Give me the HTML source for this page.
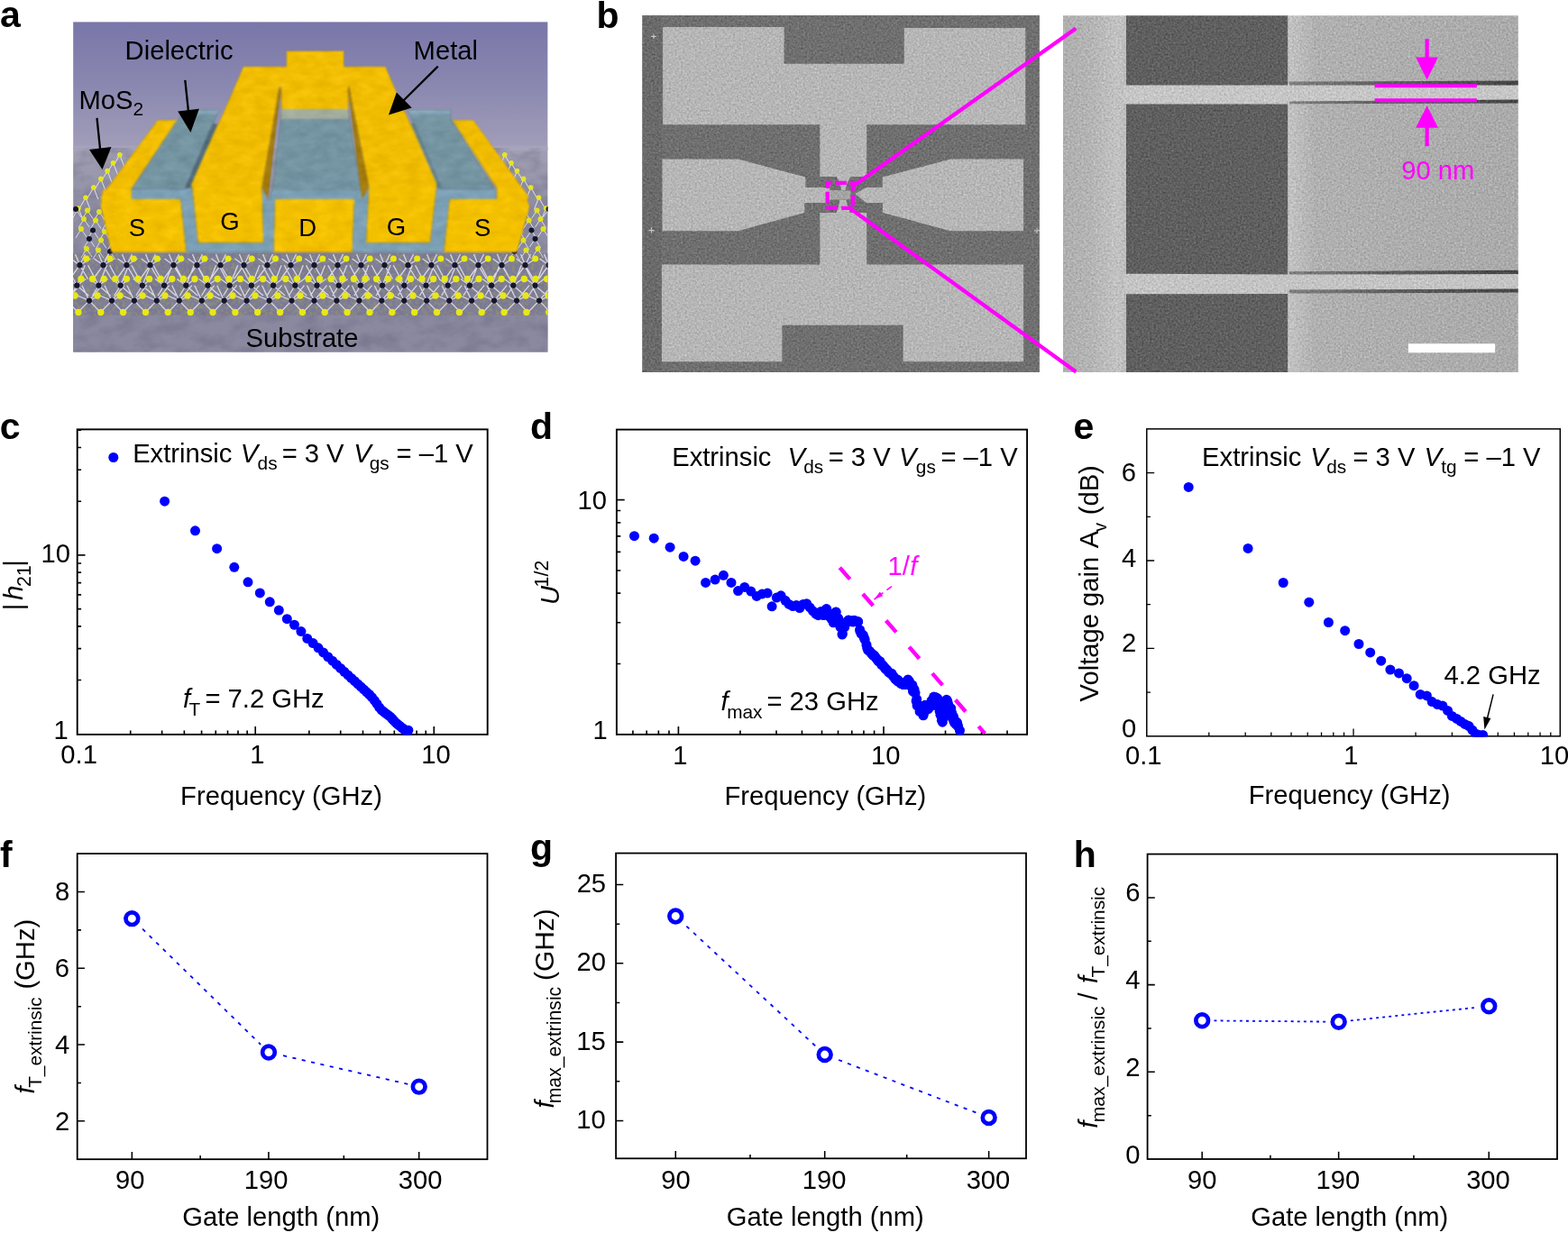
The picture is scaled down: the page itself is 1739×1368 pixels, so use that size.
<!DOCTYPE html>
<html lang="en"><head><meta charset="utf-8"><title>Figure</title>
<style>
html,body{margin:0;padding:0;background:#fff;}
body{width:1739px;height:1368px;overflow:hidden;font-family:"Liberation Sans",Arial,Helvetica,sans-serif;}
svg{display:block;}
svg text{font-family:"Liberation Sans",Arial,Helvetica,sans-serif;}
</style></head><body>
<svg width="1739" height="1368" viewBox="0 0 1739 1368">
<rect width="1739" height="1368" fill="#fff"/>
<defs><linearGradient id="sky" x1="0" x2="0" y1="0" y2="1"><stop offset="0" stop-color="#7976a9"/><stop offset="0.5" stop-color="#8a88b0"/><stop offset="1" stop-color="#a29eb9"/></linearGradient><linearGradient id="gnd" x1="0" x2="0" y1="0" y2="1"><stop offset="0" stop-color="#a2a0b4"/><stop offset="0.25" stop-color="#9190a4"/><stop offset="1" stop-color="#85849a"/></linearGradient><clipPath id="ca"><rect x="81.1" y="24.2" width="526.5" height="366.3"/></clipPath><filter id="abl"><feGaussianBlur stdDeviation="0.8"/></filter><filter id="abl2"><feGaussianBlur stdDeviation="0.5"/></filter><filter id="mot" x="0" y="0" width="100%" height="100%" color-interpolation-filters="sRGB"><feTurbulence type="fractalNoise" baseFrequency="0.045 0.07" numOctaves="3" seed="4" result="n"/><feColorMatrix in="n" type="matrix" values="0 0 0 0 0.42  0 0 0 0 0.41  0 0 0 0 0.52  2.0 0 0 0 -0.8" result="g"/><feComposite in="g" in2="SourceGraphic" operator="in"/></filter><filter id="lat" x="0" y="0" width="100%" height="100%" color-interpolation-filters="sRGB"><feTurbulence type="fractalNoise" baseFrequency="0.28" numOctaves="2" seed="12" result="n"/><feColorMatrix in="n" type="matrix" values="0 0 0 0 0.62  0 0 0 0 0.62  0 0 0 0 0.3  0 2.6 0 0 -1.05" result="g"/><feComposite in="g" in2="SourceGraphic" operator="in"/></filter><filter id="tex" filterUnits="userSpaceOnUse" x="80" y="20" width="530" height="372" color-interpolation-filters="sRGB"><feGaussianBlur in="SourceGraphic" stdDeviation="0.8" result="b"/><feTurbulence type="fractalNoise" baseFrequency="0.06 0.11" numOctaves="3" seed="9" result="n"/><feColorMatrix in="n" type="matrix" values="1 0 0 0 0  1 0 0 0 0  1 0 0 0 0  0 0 0 0 1" result="g"/><feComposite in="b" in2="g" operator="arithmetic" k1="0" k2="1" k3="0.1" k4="-0.05" result="c"/><feComposite in="c" in2="b" operator="in"/></filter></defs>
<g clip-path="url(#ca)">
<rect x="81.1" y="24.2" width="526.5" height="142" fill="url(#sky)"/>
<rect x="81.1" y="164" width="526.5" height="230" fill="url(#gnd)"/>
<rect x="81.1" y="162" width="526.5" height="5" fill="#aaa8c0" opacity="0.7" filter="url(#abl)"/>
<rect x="81.1" y="281" width="526.5" height="69" fill="#7d7ca0"/>
<rect x="81.1" y="349.7" width="526.5" height="42" fill="#8a899f"/>
<rect x="81.1" y="164" width="526.5" height="228" fill="#fff" filter="url(#mot)" opacity="0.5"/>
<path d="M132.8 171.8l5 13M132.8 171.8l-7 12M125.5 180.7l5 13M125.5 180.7l-7 12M119.1 189.5l5 13M119.1 189.5l-7 12M111.9 198.4l5 13M111.9 198.4l-7 12M103.8 208.0l5 13M103.8 208.0l-7 12M95.0 219.3l5 13M95.0 219.3l-7 12M87.0 231.0l5 13M87.0 231.0l-7 12" stroke="#e4e2f0" stroke-width="1" fill="none"/><circle cx="132.8" cy="171.8" r="2.8" fill="#e6e61e"/><circle cx="125.5" cy="180.7" r="2.8" fill="#e6e61e"/><circle cx="119.1" cy="189.5" r="2.8" fill="#e6e61e"/><circle cx="111.9" cy="198.4" r="2.8" fill="#e6e61e"/><circle cx="103.8" cy="208.0" r="2.8" fill="#e6e61e"/><circle cx="95.0" cy="219.3" r="2.8" fill="#e6e61e"/><circle cx="87.0" cy="231.0" r="2.8" fill="#e6e61e"/><path d="M84.0 232.0l6 9M84.0 232.0l-6 10M97.0 233.5l6 9M97.0 233.5l-6 10M110.0 235.0l6 9M110.0 235.0l-6 10M93.0 243.0l6 9M93.0 243.0l-6 10M106.0 244.5l6 9M106.0 244.5l-6 10M119.0 246.0l6 9M119.0 246.0l-6 10M90.0 254.0l6 9M90.0 254.0l-6 10M103.0 255.5l6 9M103.0 255.5l-6 10M116.0 257.0l6 9M116.0 257.0l-6 10M99.0 265.0l6 9M99.0 265.0l-6 10M112.0 266.5l6 9M112.0 266.5l-6 10M125.0 268.0l6 9M125.0 268.0l-6 10M96.0 276.0l6 9M96.0 276.0l-6 10M109.0 277.5l6 9M109.0 277.5l-6 10M122.0 279.0l6 9M122.0 279.0l-6 10" stroke="#dedcec" stroke-width="1" fill="none"/><circle cx="84.0" cy="232.0" r="3.0" fill="#14142a"/><circle cx="97.0" cy="233.5" r="3.0" fill="#e2e21a"/><circle cx="110.0" cy="235.0" r="3.0" fill="#e2e21a"/><circle cx="93.0" cy="243.0" r="3.0" fill="#e2e21a"/><circle cx="106.0" cy="244.5" r="3.0" fill="#e2e21a"/><circle cx="119.0" cy="246.0" r="3.0" fill="#14142a"/><circle cx="90.0" cy="254.0" r="3.0" fill="#e2e21a"/><circle cx="103.0" cy="255.5" r="3.0" fill="#14142a"/><circle cx="116.0" cy="257.0" r="3.0" fill="#e2e21a"/><circle cx="99.0" cy="265.0" r="3.0" fill="#14142a"/><circle cx="112.0" cy="266.5" r="3.0" fill="#e2e21a"/><circle cx="125.0" cy="268.0" r="3.0" fill="#e2e21a"/><circle cx="96.0" cy="276.0" r="3.0" fill="#e2e21a"/><circle cx="109.0" cy="277.5" r="3.0" fill="#e2e21a"/><circle cx="122.0" cy="279.0" r="3.0" fill="#14142a"/>
<g transform="translate(692.5 0) scale(-1 1)"><path d="M132.8 171.8l5 13M132.8 171.8l-7 12M125.5 180.7l5 13M125.5 180.7l-7 12M119.1 189.5l5 13M119.1 189.5l-7 12M111.9 198.4l5 13M111.9 198.4l-7 12M103.8 208.0l5 13M103.8 208.0l-7 12M95.0 219.3l5 13M95.0 219.3l-7 12M87.0 231.0l5 13M87.0 231.0l-7 12" stroke="#e4e2f0" stroke-width="1" fill="none"/><circle cx="132.8" cy="171.8" r="2.8" fill="#e6e61e"/><circle cx="125.5" cy="180.7" r="2.8" fill="#e6e61e"/><circle cx="119.1" cy="189.5" r="2.8" fill="#e6e61e"/><circle cx="111.9" cy="198.4" r="2.8" fill="#e6e61e"/><circle cx="103.8" cy="208.0" r="2.8" fill="#e6e61e"/><circle cx="95.0" cy="219.3" r="2.8" fill="#e6e61e"/><circle cx="87.0" cy="231.0" r="2.8" fill="#e6e61e"/><path d="M84.0 232.0l6 9M84.0 232.0l-6 10M97.0 233.5l6 9M97.0 233.5l-6 10M110.0 235.0l6 9M110.0 235.0l-6 10M93.0 243.0l6 9M93.0 243.0l-6 10M106.0 244.5l6 9M106.0 244.5l-6 10M119.0 246.0l6 9M119.0 246.0l-6 10M90.0 254.0l6 9M90.0 254.0l-6 10M103.0 255.5l6 9M103.0 255.5l-6 10M116.0 257.0l6 9M116.0 257.0l-6 10M99.0 265.0l6 9M99.0 265.0l-6 10M112.0 266.5l6 9M112.0 266.5l-6 10M125.0 268.0l6 9M125.0 268.0l-6 10M96.0 276.0l6 9M96.0 276.0l-6 10M109.0 277.5l6 9M109.0 277.5l-6 10M122.0 279.0l6 9M122.0 279.0l-6 10" stroke="#dedcec" stroke-width="1" fill="none"/><circle cx="84.0" cy="232.0" r="3.0" fill="#14142a"/><circle cx="97.0" cy="233.5" r="3.0" fill="#e2e21a"/><circle cx="110.0" cy="235.0" r="3.0" fill="#e2e21a"/><circle cx="93.0" cy="243.0" r="3.0" fill="#e2e21a"/><circle cx="106.0" cy="244.5" r="3.0" fill="#e2e21a"/><circle cx="119.0" cy="246.0" r="3.0" fill="#14142a"/><circle cx="90.0" cy="254.0" r="3.0" fill="#e2e21a"/><circle cx="103.0" cy="255.5" r="3.0" fill="#14142a"/><circle cx="116.0" cy="257.0" r="3.0" fill="#e2e21a"/><circle cx="99.0" cy="265.0" r="3.0" fill="#14142a"/><circle cx="112.0" cy="266.5" r="3.0" fill="#e2e21a"/><circle cx="125.0" cy="268.0" r="3.0" fill="#e2e21a"/><circle cx="96.0" cy="276.0" r="3.0" fill="#e2e21a"/><circle cx="109.0" cy="277.5" r="3.0" fill="#e2e21a"/><circle cx="122.0" cy="279.0" r="3.0" fill="#14142a"/></g>
<rect x="81" y="281" width="527" height="69" fill="#fff" filter="url(#lat)" opacity="0.6"/>
<g filter="url(#abl2)"><path d="M61.6 346.5L74.0 333.6L86.5 346.5M61.0 328L74.0 333.6L86.0 328M74.0 333.6L66.0 316.7M74.0 333.6L88.0 316.7M86.6 346.5L99.0 333.6L111.4 346.5M86.0 328L99.0 333.6L111.0 328M99.0 333.6L91.0 316.7M99.0 333.6L113.0 316.7M111.5 346.5L124.0 333.6L136.3 346.5M111.0 328L124.0 333.6L135.9 328M124.0 333.6L116.0 316.7M124.0 333.6L137.9 316.7M136.5 346.5L148.9 333.6L161.3 346.5M135.9 328L148.9 333.6L160.9 328M148.9 333.6L140.9 316.7M148.9 333.6L162.9 316.7M161.4 346.5L173.8 333.6L186.2 346.5M160.8 328L173.8 333.6L185.8 328M173.8 333.6L165.8 316.7M173.8 333.6L187.8 316.7M186.4 346.5L198.8 333.6L211.2 346.5M185.8 328L198.8 333.6L210.8 328M198.8 333.6L190.8 316.7M198.8 333.6L212.8 316.7M211.3 346.5L223.8 333.6L236.2 346.5M210.8 328L223.8 333.6L235.8 328M223.8 333.6L215.8 316.7M223.8 333.6L237.8 316.7M236.3 346.5L248.7 333.6L261.1 346.5M235.7 328L248.7 333.6L260.7 328M248.7 333.6L240.7 316.7M248.7 333.6L262.7 316.7M261.2 346.5L273.6 333.6L286.0 346.5M260.6 328L273.6 333.6L285.6 328M273.6 333.6L265.6 316.7M273.6 333.6L287.6 316.7M286.2 346.5L298.6 333.6L311.0 346.5M285.6 328L298.6 333.6L310.6 328M298.6 333.6L290.6 316.7M298.6 333.6L312.6 316.7M311.1 346.5L323.5 333.6L335.9 346.5M310.5 328L323.5 333.6L335.5 328M323.5 333.6L315.5 316.7M323.5 333.6L337.5 316.7M336.1 346.5L348.5 333.6L360.9 346.5M335.5 328L348.5 333.6L360.5 328M348.5 333.6L340.5 316.7M348.5 333.6L362.5 316.7M361.1 346.5L373.4 333.6L385.8 346.5M360.4 328L373.4 333.6L385.4 328M373.4 333.6L365.4 316.7M373.4 333.6L387.4 316.7M386.0 346.5L398.4 333.6L410.8 346.5M385.4 328L398.4 333.6L410.4 328M398.4 333.6L390.4 316.7M398.4 333.6L412.4 316.7M410.9 346.5L423.3 333.6L435.7 346.5M410.3 328L423.3 333.6L435.3 328M423.3 333.6L415.3 316.7M423.3 333.6L437.3 316.7M435.9 346.5L448.3 333.6L460.7 346.5M435.3 328L448.3 333.6L460.3 328M448.3 333.6L440.3 316.7M448.3 333.6L462.3 316.7M460.9 346.5L473.2 333.6L485.6 346.5M460.2 328L473.2 333.6L485.2 328M473.2 333.6L465.2 316.7M473.2 333.6L487.2 316.7M485.8 346.5L498.2 333.6L510.6 346.5M485.2 328L498.2 333.6L510.2 328M498.2 333.6L490.2 316.7M498.2 333.6L512.2 316.7M510.8 346.5L523.1 333.6L535.5 346.5M510.1 328L523.1 333.6L535.1 328M523.1 333.6L515.1 316.7M523.1 333.6L537.1 316.7M535.7 346.5L548.1 333.6L560.5 346.5M535.1 328L548.1 333.6L560.1 328M548.1 333.6L540.1 316.7M548.1 333.6L562.1 316.7M560.6 346.5L573.0 333.6L585.4 346.5M560.0 328L573.0 333.6L585.0 328M573.0 333.6L565.0 316.7M573.0 333.6L587.0 316.7M585.6 346.5L598.0 333.6L610.4 346.5M585.0 328L598.0 333.6L610.0 328M598.0 333.6L590.0 316.7M598.0 333.6L612.0 316.7M610.5 346.5L622.9 333.6L635.3 346.5M609.9 328L622.9 333.6L634.9 328M622.9 333.6L614.9 316.7M622.9 333.6L636.9 316.7M635.5 346.5L647.9 333.6L660.3 346.5M634.9 328L647.9 333.6L659.9 328M647.9 333.6L639.9 316.7M647.9 333.6L661.9 316.7M51.1 309.5L61.1 316.7L71.1 309.5M54.1 328L61.1 316.7L74.1 328M61.1 316.7L70.1 294.2M61.1 316.7L49.1 294.2M75.3 309.5L85.3 316.7L95.3 309.5M78.3 328L85.3 316.7L98.3 328M85.3 316.7L94.3 294.2M85.3 316.7L73.3 294.2M99.5 309.5L109.5 316.7L119.5 309.5M102.5 328L109.5 316.7L122.5 328M109.5 316.7L118.5 294.2M109.5 316.7L97.5 294.2M123.7 309.5L133.7 316.7L143.7 309.5M126.7 328L133.7 316.7L146.7 328M133.7 316.7L142.7 294.2M133.7 316.7L121.7 294.2M147.9 309.5L157.9 316.7L167.9 309.5M150.9 328L157.9 316.7L170.9 328M157.9 316.7L166.9 294.2M157.9 316.7L145.9 294.2M172.1 309.5L182.1 316.7L192.1 309.5M175.1 328L182.1 316.7L195.1 328M182.1 316.7L191.1 294.2M182.1 316.7L170.1 294.2M196.3 309.5L206.3 316.7L216.3 309.5M199.3 328L206.3 316.7L219.3 328M206.3 316.7L215.3 294.2M206.3 316.7L194.3 294.2M220.5 309.5L230.5 316.7L240.5 309.5M223.5 328L230.5 316.7L243.5 328M230.5 316.7L239.5 294.2M230.5 316.7L218.5 294.2M244.7 309.5L254.7 316.7L264.7 309.5M247.7 328L254.7 316.7L267.7 328M254.7 316.7L263.7 294.2M254.7 316.7L242.7 294.2M268.9 309.5L278.9 316.7L288.9 309.5M271.9 328L278.9 316.7L291.9 328M278.9 316.7L287.9 294.2M278.9 316.7L266.9 294.2M293.1 309.5L303.1 316.7L313.1 309.5M296.1 328L303.1 316.7L316.1 328M303.1 316.7L312.1 294.2M303.1 316.7L291.1 294.2M317.3 309.5L327.3 316.7L337.3 309.5M320.3 328L327.3 316.7L340.3 328M327.3 316.7L336.3 294.2M327.3 316.7L315.3 294.2M341.5 309.5L351.5 316.7L361.5 309.5M344.5 328L351.5 316.7L364.5 328M351.5 316.7L360.5 294.2M351.5 316.7L339.5 294.2M365.7 309.5L375.7 316.7L385.7 309.5M368.7 328L375.7 316.7L388.7 328M375.7 316.7L384.7 294.2M375.7 316.7L363.7 294.2M389.9 309.5L399.9 316.7L409.9 309.5M392.9 328L399.9 316.7L412.9 328M399.9 316.7L408.9 294.2M399.9 316.7L387.9 294.2M414.1 309.5L424.1 316.7L434.1 309.5M417.1 328L424.1 316.7L437.1 328M424.1 316.7L433.1 294.2M424.1 316.7L412.1 294.2M438.3 309.5L448.3 316.7L458.3 309.5M441.3 328L448.3 316.7L461.3 328M448.3 316.7L457.3 294.2M448.3 316.7L436.3 294.2M462.5 309.5L472.5 316.7L482.5 309.5M465.5 328L472.5 316.7L485.5 328M472.5 316.7L481.5 294.2M472.5 316.7L460.5 294.2M486.7 309.5L496.7 316.7L506.7 309.5M489.7 328L496.7 316.7L509.7 328M496.7 316.7L505.7 294.2M496.7 316.7L484.7 294.2M510.9 309.5L520.9 316.7L530.9 309.5M513.9 328L520.9 316.7L533.9 328M520.9 316.7L529.9 294.2M520.9 316.7L508.9 294.2M535.1 309.5L545.1 316.7L555.1 309.5M538.1 328L545.1 316.7L558.1 328M545.1 316.7L554.1 294.2M545.1 316.7L533.1 294.2M559.3 309.5L569.3 316.7L579.3 309.5M562.3 328L569.3 316.7L582.3 328M569.3 316.7L578.3 294.2M569.3 316.7L557.3 294.2M583.5 309.5L593.5 316.7L603.5 309.5M586.5 328L593.5 316.7L606.5 328M593.5 316.7L602.5 294.2M593.5 316.7L581.5 294.2M607.7 309.5L617.7 316.7L627.7 309.5M610.7 328L617.7 316.7L630.7 328M617.7 316.7L626.7 294.2M617.7 316.7L605.7 294.2M52.5 287L62.5 294.2L74.5 287M51.5 309.5L62.5 294.2L71.5 309.5M57.5 282L62.5 294.2L68.5 282M78.5 287L88.5 294.2L100.5 287M77.5 309.5L88.5 294.2L97.5 309.5M83.5 282L88.5 294.2L94.5 282M104.5 287L114.5 294.2L126.5 287M103.5 309.5L114.5 294.2L123.5 309.5M109.5 282L114.5 294.2L120.5 282M130.5 287L140.5 294.2L152.5 287M129.5 309.5L140.5 294.2L149.5 309.5M135.5 282L140.5 294.2L146.5 282M156.5 287L166.5 294.2L178.5 287M155.5 309.5L166.5 294.2L175.5 309.5M161.5 282L166.5 294.2L172.5 282M182.5 287L192.5 294.2L204.5 287M181.5 309.5L192.5 294.2L201.5 309.5M187.5 282L192.5 294.2L198.5 282M208.5 287L218.5 294.2L230.5 287M207.5 309.5L218.5 294.2L227.5 309.5M213.5 282L218.5 294.2L224.5 282M234.5 287L244.5 294.2L256.5 287M233.5 309.5L244.5 294.2L253.5 309.5M239.5 282L244.5 294.2L250.5 282M260.5 287L270.5 294.2L282.5 287M259.5 309.5L270.5 294.2L279.5 309.5M265.5 282L270.5 294.2L276.5 282M286.5 287L296.5 294.2L308.5 287M285.5 309.5L296.5 294.2L305.5 309.5M291.5 282L296.5 294.2L302.5 282M312.5 287L322.5 294.2L334.5 287M311.5 309.5L322.5 294.2L331.5 309.5M317.5 282L322.5 294.2L328.5 282M338.5 287L348.5 294.2L360.5 287M337.5 309.5L348.5 294.2L357.5 309.5M343.5 282L348.5 294.2L354.5 282M364.5 287L374.5 294.2L386.5 287M363.5 309.5L374.5 294.2L383.5 309.5M369.5 282L374.5 294.2L380.5 282M390.5 287L400.5 294.2L412.5 287M389.5 309.5L400.5 294.2L409.5 309.5M395.5 282L400.5 294.2L406.5 282M416.5 287L426.5 294.2L438.5 287M415.5 309.5L426.5 294.2L435.5 309.5M421.5 282L426.5 294.2L432.5 282M442.5 287L452.5 294.2L464.5 287M441.5 309.5L452.5 294.2L461.5 309.5M447.5 282L452.5 294.2L458.5 282M468.5 287L478.5 294.2L490.5 287M467.5 309.5L478.5 294.2L487.5 309.5M473.5 282L478.5 294.2L484.5 282M494.5 287L504.5 294.2L516.5 287M493.5 309.5L504.5 294.2L513.5 309.5M499.5 282L504.5 294.2L510.5 282M520.5 287L530.5 294.2L542.5 287M519.5 309.5L530.5 294.2L539.5 309.5M525.5 282L530.5 294.2L536.5 282M546.5 287L556.5 294.2L568.5 287M545.5 309.5L556.5 294.2L565.5 309.5M551.5 282L556.5 294.2L562.5 282M572.5 287L582.5 294.2L594.5 287M571.5 309.5L582.5 294.2L591.5 309.5M577.5 282L582.5 294.2L588.5 282M598.5 287L608.5 294.2L620.5 287M597.5 309.5L608.5 294.2L617.5 309.5M603.5 282L608.5 294.2L614.5 282M624.5 287L634.5 294.2L646.5 287M623.5 309.5L634.5 294.2L643.5 309.5M629.5 282L634.5 294.2L640.5 282" stroke="#e2e0f0" stroke-width="1.3" fill="none" opacity="0.9"/><circle cx="62.5" cy="294.2" r="3.1" fill="#14142a"/><circle cx="88.5" cy="294.2" r="3.1" fill="#14142a"/><circle cx="114.5" cy="294.2" r="3.1" fill="#14142a"/><circle cx="140.5" cy="294.2" r="3.1" fill="#14142a"/><circle cx="166.5" cy="294.2" r="3.1" fill="#14142a"/><circle cx="192.5" cy="294.2" r="3.1" fill="#14142a"/><circle cx="218.5" cy="294.2" r="3.1" fill="#14142a"/><circle cx="244.5" cy="294.2" r="3.1" fill="#14142a"/><circle cx="270.5" cy="294.2" r="3.1" fill="#14142a"/><circle cx="296.5" cy="294.2" r="3.1" fill="#14142a"/><circle cx="322.5" cy="294.2" r="3.1" fill="#14142a"/><circle cx="348.5" cy="294.2" r="3.1" fill="#14142a"/><circle cx="374.5" cy="294.2" r="3.1" fill="#14142a"/><circle cx="400.5" cy="294.2" r="3.1" fill="#14142a"/><circle cx="426.5" cy="294.2" r="3.1" fill="#14142a"/><circle cx="452.5" cy="294.2" r="3.1" fill="#14142a"/><circle cx="478.5" cy="294.2" r="3.1" fill="#14142a"/><circle cx="504.5" cy="294.2" r="3.1" fill="#14142a"/><circle cx="530.5" cy="294.2" r="3.1" fill="#14142a"/><circle cx="556.5" cy="294.2" r="3.1" fill="#14142a"/><circle cx="582.5" cy="294.2" r="3.1" fill="#14142a"/><circle cx="608.5" cy="294.2" r="3.1" fill="#14142a"/><circle cx="634.5" cy="294.2" r="3.1" fill="#14142a"/><circle cx="61.1" cy="316.7" r="3.1" fill="#14142a"/><circle cx="85.3" cy="316.7" r="3.1" fill="#14142a"/><circle cx="109.5" cy="316.7" r="3.1" fill="#14142a"/><circle cx="133.7" cy="316.7" r="3.1" fill="#14142a"/><circle cx="157.9" cy="316.7" r="3.1" fill="#14142a"/><circle cx="182.1" cy="316.7" r="3.1" fill="#14142a"/><circle cx="206.3" cy="316.7" r="3.1" fill="#14142a"/><circle cx="230.5" cy="316.7" r="3.1" fill="#14142a"/><circle cx="254.7" cy="316.7" r="3.1" fill="#14142a"/><circle cx="278.9" cy="316.7" r="3.1" fill="#14142a"/><circle cx="303.1" cy="316.7" r="3.1" fill="#14142a"/><circle cx="327.3" cy="316.7" r="3.1" fill="#14142a"/><circle cx="351.5" cy="316.7" r="3.1" fill="#14142a"/><circle cx="375.7" cy="316.7" r="3.1" fill="#14142a"/><circle cx="399.9" cy="316.7" r="3.1" fill="#14142a"/><circle cx="424.1" cy="316.7" r="3.1" fill="#14142a"/><circle cx="448.3" cy="316.7" r="3.1" fill="#14142a"/><circle cx="472.5" cy="316.7" r="3.1" fill="#14142a"/><circle cx="496.7" cy="316.7" r="3.1" fill="#14142a"/><circle cx="520.9" cy="316.7" r="3.1" fill="#14142a"/><circle cx="545.1" cy="316.7" r="3.1" fill="#14142a"/><circle cx="569.3" cy="316.7" r="3.1" fill="#14142a"/><circle cx="593.5" cy="316.7" r="3.1" fill="#14142a"/><circle cx="617.7" cy="316.7" r="3.1" fill="#14142a"/><circle cx="74.0" cy="333.6" r="3.1" fill="#14142a"/><circle cx="99.0" cy="333.6" r="3.1" fill="#14142a"/><circle cx="124.0" cy="333.6" r="3.1" fill="#14142a"/><circle cx="148.9" cy="333.6" r="3.1" fill="#14142a"/><circle cx="173.8" cy="333.6" r="3.1" fill="#14142a"/><circle cx="198.8" cy="333.6" r="3.1" fill="#14142a"/><circle cx="223.8" cy="333.6" r="3.1" fill="#14142a"/><circle cx="248.7" cy="333.6" r="3.1" fill="#14142a"/><circle cx="273.6" cy="333.6" r="3.1" fill="#14142a"/><circle cx="298.6" cy="333.6" r="3.1" fill="#14142a"/><circle cx="323.5" cy="333.6" r="3.1" fill="#14142a"/><circle cx="348.5" cy="333.6" r="3.1" fill="#14142a"/><circle cx="373.4" cy="333.6" r="3.1" fill="#14142a"/><circle cx="398.4" cy="333.6" r="3.1" fill="#14142a"/><circle cx="423.3" cy="333.6" r="3.1" fill="#14142a"/><circle cx="448.3" cy="333.6" r="3.1" fill="#14142a"/><circle cx="473.2" cy="333.6" r="3.1" fill="#14142a"/><circle cx="498.2" cy="333.6" r="3.1" fill="#14142a"/><circle cx="523.1" cy="333.6" r="3.1" fill="#14142a"/><circle cx="548.1" cy="333.6" r="3.1" fill="#14142a"/><circle cx="573.0" cy="333.6" r="3.1" fill="#14142a"/><circle cx="598.0" cy="333.6" r="3.1" fill="#14142a"/><circle cx="622.9" cy="333.6" r="3.1" fill="#14142a"/><circle cx="647.9" cy="333.6" r="3.1" fill="#14142a"/><circle cx="69.6" cy="287.0" r="3.5" fill="#e8e814"/><circle cx="95.8" cy="287.0" r="3.5" fill="#e8e814"/><circle cx="122.0" cy="287.0" r="3.5" fill="#e8e814"/><circle cx="148.2" cy="287.0" r="3.5" fill="#e8e814"/><circle cx="174.4" cy="287.0" r="3.5" fill="#e8e814"/><circle cx="200.6" cy="287.0" r="3.5" fill="#e8e814"/><circle cx="226.8" cy="287.0" r="3.5" fill="#e8e814"/><circle cx="253.0" cy="287.0" r="3.5" fill="#e8e814"/><circle cx="279.2" cy="287.0" r="3.5" fill="#e8e814"/><circle cx="305.4" cy="287.0" r="3.5" fill="#e8e814"/><circle cx="331.6" cy="287.0" r="3.5" fill="#e8e814"/><circle cx="357.8" cy="287.0" r="3.5" fill="#e8e814"/><circle cx="384.0" cy="287.0" r="3.5" fill="#e8e814"/><circle cx="410.2" cy="287.0" r="3.5" fill="#e8e814"/><circle cx="436.4" cy="287.0" r="3.5" fill="#e8e814"/><circle cx="462.6" cy="287.0" r="3.5" fill="#e8e814"/><circle cx="488.8" cy="287.0" r="3.5" fill="#e8e814"/><circle cx="515.0" cy="287.0" r="3.5" fill="#e8e814"/><circle cx="541.2" cy="287.0" r="3.5" fill="#e8e814"/><circle cx="567.4" cy="287.0" r="3.5" fill="#e8e814"/><circle cx="593.6" cy="287.0" r="3.5" fill="#e8e814"/><circle cx="619.8" cy="287.0" r="3.5" fill="#e8e814"/><circle cx="646.0" cy="287.0" r="3.5" fill="#e8e814"/><circle cx="77.4" cy="309.5" r="3.7" fill="#e8e814"/><circle cx="90.0" cy="309.5" r="3.7" fill="#e8e814"/><circle cx="102.6" cy="309.5" r="3.7" fill="#e8e814"/><circle cx="115.2" cy="309.5" r="3.7" fill="#e8e814"/><circle cx="127.8" cy="309.5" r="3.7" fill="#e8e814"/><circle cx="140.4" cy="309.5" r="3.7" fill="#e8e814"/><circle cx="153.0" cy="309.5" r="3.7" fill="#e8e814"/><circle cx="165.6" cy="309.5" r="3.7" fill="#e8e814"/><circle cx="178.2" cy="309.5" r="3.7" fill="#e8e814"/><circle cx="190.8" cy="309.5" r="3.7" fill="#e8e814"/><circle cx="203.4" cy="309.5" r="3.7" fill="#e8e814"/><circle cx="216.0" cy="309.5" r="3.7" fill="#e8e814"/><circle cx="228.6" cy="309.5" r="3.7" fill="#e8e814"/><circle cx="241.2" cy="309.5" r="3.7" fill="#e8e814"/><circle cx="253.8" cy="309.5" r="3.7" fill="#e8e814"/><circle cx="266.4" cy="309.5" r="3.7" fill="#e8e814"/><circle cx="279.0" cy="309.5" r="3.7" fill="#e8e814"/><circle cx="291.6" cy="309.5" r="3.7" fill="#e8e814"/><circle cx="304.2" cy="309.5" r="3.7" fill="#e8e814"/><circle cx="316.8" cy="309.5" r="3.7" fill="#e8e814"/><circle cx="329.4" cy="309.5" r="3.7" fill="#e8e814"/><circle cx="342.0" cy="309.5" r="3.7" fill="#e8e814"/><circle cx="354.6" cy="309.5" r="3.7" fill="#e8e814"/><circle cx="367.2" cy="309.5" r="3.7" fill="#e8e814"/><circle cx="379.8" cy="309.5" r="3.7" fill="#e8e814"/><circle cx="392.4" cy="309.5" r="3.7" fill="#e8e814"/><circle cx="405.0" cy="309.5" r="3.7" fill="#e8e814"/><circle cx="417.6" cy="309.5" r="3.7" fill="#e8e814"/><circle cx="430.2" cy="309.5" r="3.7" fill="#e8e814"/><circle cx="442.8" cy="309.5" r="3.7" fill="#e8e814"/><circle cx="455.4" cy="309.5" r="3.7" fill="#e8e814"/><circle cx="468.0" cy="309.5" r="3.7" fill="#e8e814"/><circle cx="480.6" cy="309.5" r="3.7" fill="#e8e814"/><circle cx="493.2" cy="309.5" r="3.7" fill="#e8e814"/><circle cx="505.8" cy="309.5" r="3.7" fill="#e8e814"/><circle cx="518.4" cy="309.5" r="3.7" fill="#e8e814"/><circle cx="531.0" cy="309.5" r="3.7" fill="#e8e814"/><circle cx="543.6" cy="309.5" r="3.7" fill="#e8e814"/><circle cx="556.2" cy="309.5" r="3.7" fill="#e8e814"/><circle cx="568.8" cy="309.5" r="3.7" fill="#e8e814"/><circle cx="581.4" cy="309.5" r="3.7" fill="#e8e814"/><circle cx="594.0" cy="309.5" r="3.7" fill="#e8e814"/><circle cx="606.6" cy="309.5" r="3.7" fill="#e8e814"/><circle cx="619.2" cy="309.5" r="3.7" fill="#e8e814"/><circle cx="631.8" cy="309.5" r="3.7" fill="#e8e814"/><circle cx="58.0" cy="328.0" r="3.7" fill="#e8e814"/><circle cx="83.0" cy="328.0" r="3.7" fill="#e8e814"/><circle cx="108.0" cy="328.0" r="3.7" fill="#e8e814"/><circle cx="133.0" cy="328.0" r="3.7" fill="#e8e814"/><circle cx="158.0" cy="328.0" r="3.7" fill="#e8e814"/><circle cx="183.0" cy="328.0" r="3.7" fill="#e8e814"/><circle cx="208.0" cy="328.0" r="3.7" fill="#e8e814"/><circle cx="233.0" cy="328.0" r="3.7" fill="#e8e814"/><circle cx="258.0" cy="328.0" r="3.7" fill="#e8e814"/><circle cx="283.0" cy="328.0" r="3.7" fill="#e8e814"/><circle cx="308.0" cy="328.0" r="3.7" fill="#e8e814"/><circle cx="333.0" cy="328.0" r="3.7" fill="#e8e814"/><circle cx="358.0" cy="328.0" r="3.7" fill="#e8e814"/><circle cx="383.0" cy="328.0" r="3.7" fill="#e8e814"/><circle cx="408.0" cy="328.0" r="3.7" fill="#e8e814"/><circle cx="433.0" cy="328.0" r="3.7" fill="#e8e814"/><circle cx="458.0" cy="328.0" r="3.7" fill="#e8e814"/><circle cx="483.0" cy="328.0" r="3.7" fill="#e8e814"/><circle cx="508.0" cy="328.0" r="3.7" fill="#e8e814"/><circle cx="533.0" cy="328.0" r="3.7" fill="#e8e814"/><circle cx="558.0" cy="328.0" r="3.7" fill="#e8e814"/><circle cx="583.0" cy="328.0" r="3.7" fill="#e8e814"/><circle cx="608.0" cy="328.0" r="3.7" fill="#e8e814"/><circle cx="633.0" cy="328.0" r="3.7" fill="#e8e814"/><circle cx="62.1" cy="346.5" r="3.7" fill="#e8e814"/><circle cx="86.9" cy="346.5" r="3.7" fill="#e8e814"/><circle cx="111.8" cy="346.5" r="3.7" fill="#e8e814"/><circle cx="136.6" cy="346.5" r="3.7" fill="#e8e814"/><circle cx="161.5" cy="346.5" r="3.7" fill="#e8e814"/><circle cx="186.3" cy="346.5" r="3.7" fill="#e8e814"/><circle cx="211.2" cy="346.5" r="3.7" fill="#e8e814"/><circle cx="236.0" cy="346.5" r="3.7" fill="#e8e814"/><circle cx="260.9" cy="346.5" r="3.7" fill="#e8e814"/><circle cx="285.7" cy="346.5" r="3.7" fill="#e8e814"/><circle cx="310.6" cy="346.5" r="3.7" fill="#e8e814"/><circle cx="335.4" cy="346.5" r="3.7" fill="#e8e814"/><circle cx="360.2" cy="346.5" r="3.7" fill="#e8e814"/><circle cx="385.1" cy="346.5" r="3.7" fill="#e8e814"/><circle cx="410.0" cy="346.5" r="3.7" fill="#e8e814"/><circle cx="434.8" cy="346.5" r="3.7" fill="#e8e814"/><circle cx="459.6" cy="346.5" r="3.7" fill="#e8e814"/><circle cx="484.5" cy="346.5" r="3.7" fill="#e8e814"/><circle cx="509.4" cy="346.5" r="3.7" fill="#e8e814"/><circle cx="534.2" cy="346.5" r="3.7" fill="#e8e814"/><circle cx="559.1" cy="346.5" r="3.7" fill="#e8e814"/><circle cx="583.9" cy="346.5" r="3.7" fill="#e8e814"/><circle cx="608.8" cy="346.5" r="3.7" fill="#e8e814"/><circle cx="633.6" cy="346.5" r="3.7" fill="#e8e814"/></g>
<g filter="url(#tex)">
<polygon points="174.7,132.4 197.2,132.4 145.7,209.7 145.7,221.0 113.5,221.0 110.3,219.3" fill="#f0bd02" />
<polygon points="501.0,132.4 525.2,132.4 588.0,219.3 581.5,221.0 550.9,221.0 550.9,209.7" fill="#f0bd02" />
<polygon points="197.2,132.4 204.0,121.1 243.9,121.1 211.7,208.0 208.5,209.7 145.7,209.7" fill="#7594a2" />
<polygon points="145.7,209.7 208.5,209.7 204.0,221.0 145.7,221.0" fill="#7ba0b6" />
<polygon points="451.1,121.1 500.2,121.1 501.0,132.4 549.3,209.7 487.0,209.7 484.1,203.2" fill="#7594a2" />
<polygon points="487.0,209.7 549.3,209.7 550.9,221.0 492.0,221.0" fill="#7ba0b6" />
<polygon points="204.0,121.1 243.9,121.1 241.6,126.6 200.6,126.6" fill="#86a8ba" />
<polygon points="451.1,121.1 500.2,121.1 500.6,126.6 453.5,126.6" fill="#86a8ba" />
<polygon points="311.5,121.5 386.7,121.5 402.0,221.0 300.0,221.0" fill="#7594a2" />
<polygon points="311.5,121.1 386.7,121.1 387.0,132.0 311.0,132.0" fill="#a3ad9c" />
<polygon points="300.0,212.0 402.0,212.0 403.0,221.0 299.0,221.0" fill="#7ba0b6" />
<polygon points="235.5,137.2 242.5,137.2 212.0,209.7 204.5,209.7" fill="#52697a" />
<polygon points="460.5,137.2 454.5,137.2 485.0,209.7 490.5,209.7" fill="#64808e" />
<polygon points="317.2,56.0 381.9,56.0 381.9,73.6 427.8,73.6 437.0,95.0 386.7,95.3 386.7,121.1 311.5,121.1 311.5,96.9 260.0,96.0 269.7,73.6 317.2,73.6" fill="#f0bd02" />
<polygon points="269.7,73.6 311.5,73.6 309.9,96.9 290.6,208.0 213.3,208.0 211.7,206.0" fill="#f0bd02" />
<polygon points="309.9,96.9 311.8,100.0 297.5,221.0 290.6,208.0" fill="#a57c0c" />
<polygon points="386.7,73.6 427.8,73.6 484.1,203.2 484.1,208.0 409.2,208.0 386.7,95.3" fill="#f0bd02" />
<polygon points="386.7,95.3 409.2,208.0 401.5,221.0 385.5,100.0" fill="#a57c0c" />
<polygon points="113.5,209.7 145.7,209.7 145.7,220.9 200.4,220.9 206.9,280.5 123.1,280.5 111.1,229.0" fill="#f3c000" />
<polygon points="200.4,220.9 204.0,209.7 213.3,208.0 219.7,269.2 292.2,269.2 290.6,208.0 297.5,221.0 305.1,220.9 303.5,280.5 206.9,280.5" fill="#7ba0b6" />
<polygon points="213.3,208.0 290.6,208.0 292.2,269.2 219.7,269.2" fill="#f3c000" />
<polygon points="305.1,220.9 393.1,220.9 390.7,280.5 303.5,280.5" fill="#f3c000" />
<polygon points="393.1,220.9 401.5,221.0 409.2,208.0 406.0,269.2 477.0,269.2 484.1,208.0 494.6,212.0 498.6,220.9 492.2,280.5 390.7,280.5" fill="#7ba0b6" />
<polygon points="409.2,208.0 484.1,208.0 477.0,269.2 406.0,269.2" fill="#f3c000" />
<polygon points="498.6,220.9 550.9,220.9 550.9,209.7 581.5,209.7 588.0,229.0 573.5,280.5 492.2,280.5" fill="#f3c000" />
</g>
</g>
<text x="138.6" y="66.4" font-size="29.2">Dielectric</text>
<text x="458.6" y="66.4" font-size="29.2">Metal</text>
<text x="87.4" y="121.4" font-size="29.2">MoS<tspan font-size="21" dy="7">2</tspan></text>
<text x="335" y="385.2" text-anchor="middle" font-size="29.2">Substrate</text>
<text x="151.8" y="261.9" text-anchor="middle" font-size="27.5">S</text>
<text x="255" y="254.6" text-anchor="middle" font-size="27.5">G</text>
<text x="341.2" y="261.9" text-anchor="middle" font-size="27.5">D</text>
<text x="439.5" y="260.7" text-anchor="middle" font-size="27.5">G</text>
<text x="535.1" y="261.9" text-anchor="middle" font-size="27.5">S</text>
<path d="M205.3 88.9L209.2 126M107.5 130.8L111.2 167M485.7 73.6L446 113" stroke="#000" stroke-width="2.3" fill="none"/>
<polygon points="211.4,146.9 197.2,123.5 220.9,120.8" fill="#000" />
<polygon points="113.5,187.9 99.0,165.9 123.5,163.0" fill="#000" />
<polygon points="431.0,127.5 439.8,102.6 456.7,119.5" fill="#000" />
<text x="0" y="30.2" font-size="41" font-weight="bold">a</text>
<defs><filter id="sem" filterUnits="userSpaceOnUse" x="700" y="5" width="1000" height="420" color-interpolation-filters="sRGB"><feGaussianBlur in="SourceGraphic" stdDeviation="0.75" result="b"/><feTurbulence type="fractalNoise" baseFrequency="0.45" numOctaves="2" seed="7" result="n"/><feColorMatrix in="n" type="matrix" values="0.6 0.4 0 0 0  0.6 0.4 0 0 0  0.6 0.4 0 0 0  0 0 0 0 1" result="g"/><feComposite in="b" in2="g" operator="arithmetic" k1="0" k2="1" k3="0.36" k4="-0.18"/></filter><clipPath id="cb1"><rect x="712.2" y="17.1" width="440.7" height="395.9"/></clipPath><clipPath id="cb2"><rect x="1179" y="17.2" width="504.8" height="395.7"/></clipPath><linearGradient id="lband" x1="0" x2="1" y1="0" y2="0"><stop offset="0" stop-color="#adadad"/><stop offset="0.5" stop-color="#b4b4b4"/><stop offset="0.88" stop-color="#c2c2c2"/><stop offset="1" stop-color="#bcbcbc"/></linearGradient><linearGradient id="rreg" x1="0" x2="1" y1="0" y2="0"><stop offset="0" stop-color="#c4c4c4"/><stop offset="0.12" stop-color="#b0b0b0"/><stop offset="1" stop-color="#aaaaaa"/></linearGradient><linearGradient id="dkl" gradientUnits="userSpaceOnUse" x1="1430" x2="1690" y1="0" y2="0"><stop offset="0" stop-color="#7e7e7e"/><stop offset="0.4" stop-color="#606060"/><stop offset="1" stop-color="#444444"/></linearGradient></defs>
<g clip-path="url(#cb1)"><g filter="url(#sem)">
<rect x="705" y="10" width="455" height="410" fill="#6f6f6f"/>
<rect x="705" y="10" width="29" height="410" fill="#6a6a6a"/>
<polygon points="735.1,30.1 869.6,30.1 869.6,70.8 1002.8,70.8 1002.8,31.0 1137.3,31.0 1137.3,138.2 961.2,138.2 961.2,196.1 943.6,196.1 939.5,203.0 937.5,211.0 933.0,211.0 932.0,203.0 927.5,196.1 909.4,196.1 909.4,138.2 735.1,138.2" fill="#b6b6b6" />
<polygon points="733.9,401.2 867.4,401.2 867.4,360.8 1001.6,360.8 1001.6,401.2 1135.1,401.2 1135.1,293.4 961.2,293.4 961.2,236.0 942.7,236.0 940.5,229.0 938.0,221.5 931.5,221.5 930.0,229.0 927.5,236.0 909.4,236.0 909.4,293.4 733.9,293.4" fill="#b6b6b6" />
<polygon points="734.5,176.4 818.4,176.4 893.3,196.6 893.3,208.0 919.0,208.0 921.0,211.3 933.0,211.3 933.0,221.3 921.0,221.3 919.0,225.1 892.3,225.1 892.3,236.0 818.4,256.2 734.5,256.2" fill="#b6b6b6" />
<polygon points="921.0,211.3 943.5,211.3 943.5,221.3 921.0,221.3" fill="#a4a4a4" />
<polygon points="1135.1,176.4 1054.4,176.4 978.8,196.6 978.8,208.0 960.8,208.0 948.4,215.0 960.8,225.1 978.8,225.1 978.8,236.0 1054.4,256.2 1135.1,256.2" fill="#b6b6b6" />
<path d="M722 40.3h6M725 37.3v6M719.5 255.6h6M722.5 252.6v6M1147 255.8h6M1150 252.8v6" stroke="#c0c0c0" stroke-width="1.2" fill="none"/>
</g></g>
<g clip-path="url(#cb2)"><g filter="url(#sem)">
<rect x="1170" y="10" width="520" height="410" fill="#9f9f9f"/>
<rect x="1170" y="10" width="79" height="410" fill="url(#lband)"/>
<rect x="1427" y="10" width="265" height="410" fill="url(#rreg)"/>
<rect x="1249" y="10" width="179.2" height="410" fill="#5f5f5f"/>
<polygon points="1246.0,94.4 1690.0,94.4 1690.0,110.4 1428.0,112.6 1428.0,115.4 1246.0,115.6" fill="#c6c6c6" />
<polygon points="1246.0,303.7 1428.0,304.5 1690.0,304.0 1690.0,320.6 1428.0,321.6 1428.0,326.0 1246.0,326.3" fill="#c4c4c4" />
<polygon points="1430.0,90.6 1690.0,89.6 1690.0,94.4 1430.0,94.4" fill="url(#dkl)" />
<polygon points="1430.0,112.6 1690.0,110.4 1690.0,114.4 1430.0,115.2" fill="url(#dkl)" />
<polygon points="1430.0,301.2 1690.0,299.8 1690.0,304.0 1430.0,304.6" fill="url(#dkl)" />
<polygon points="1430.0,321.6 1690.0,320.6 1690.0,324.6 1430.0,325.6" fill="url(#dkl)" />
</g></g>
<path d="M947.4 205.6L1193.3 31.6M940.8 229.8L1193.3 412.4" stroke="#ff00ff" stroke-width="4.3" fill="none"/>
<path d="M915.6 202.9H922.7M927 202.9H938.9M942.7 202.9H947.9M917.7 200.9V208.9M917.7 212.7V225.1M915.6 230.8H929.4M933.2 230.8H941.7M945.8 200.9V211.8M945.8 216.5V228.9" stroke="#ff00ff" stroke-width="4.3" fill="none"/>
<path d="M1524.6 95.2H1637.9M1524.6 111.2H1637.9" stroke="#ff00ff" stroke-width="4" fill="none"/>
<path d="M1582.6 43.3V66M1582.6 162.2V140" stroke="#ff00ff" stroke-width="4.2" fill="none"/>
<path d="M1582.6 88.4l-12.4 -25h24.8zM1582.6 117.2l-12.4 24.6h24.8z" fill="#ff00ff"/>
<text x="1554.2" y="198.8" font-size="29.2" fill="#ff00ff">90 nm</text>
<rect x="1561.9" y="381.3" width="96.3" height="10" fill="#fff"/>
<text x="661.4" y="30.8" font-size="41" font-weight="bold">b</text>
<rect x="85.7" y="476.4" width="455" height="338.5" fill="none" stroke="#000" stroke-width="1.9"/>
<path d="M283.2 814.9v-8.8M481.3 814.9v-8.8" stroke="#000" stroke-width="1.65" fill="none"/>
<path d="M144.73 814.9v-4.4M179.62 814.9v-4.4M204.37 814.9v-4.4M223.57 814.9v-4.4M239.25 814.9v-4.4M252.51 814.9v-4.4M264 814.9v-4.4M274.14 814.9v-4.4M342.83 814.9v-4.4M377.72 814.9v-4.4M402.47 814.9v-4.4M421.67 814.9v-4.4M437.35 814.9v-4.4M450.61 814.9v-4.4M462.1 814.9v-4.4M472.24 814.9v-4.4" stroke="#000" stroke-width="1.65" fill="none"/>
<path d="M85.7 615.9h8.8" stroke="#000" stroke-width="1.65" fill="none"/>
<path d="M85.7 754.51h4.4M85.7 719.59h4.4M85.7 694.81h4.4M85.7 675.59h4.4M85.7 659.89h4.4M85.7 646.62h4.4M85.7 635.12h4.4M85.7 624.97h4.4M85.7 556.21h4.4M85.7 521.29h4.4M85.7 496.51h4.4M85.7 477.29h4.4" stroke="#000" stroke-width="1.65" fill="none"/>
<text x="87.6" y="847.3" font-size="29.2" text-anchor="middle">0.1</text>
<text x="285.3" y="847.3" font-size="29.2" text-anchor="middle">1</text>
<text x="483.6" y="847.3" font-size="29.2" text-anchor="middle">10</text>
<text x="45.56" y="624" font-size="29.2">10</text>
<text x="67.6" y="820.2" font-size="29.2" text-anchor="middle">1</text>
<text x="200.1" y="892.7" font-size="29.2">Frequency (GHz)</text>
<text transform="rotate(-90)" font-size="29.2"><tspan x="-677.21" y="24.8">|</tspan><tspan x="-665.78" y="24.8" font-style="italic">h</tspan><tspan x="-650.88" y="33.6" font-size="21.4">21</tspan><tspan x="-628.81" y="24.8">|</tspan></text>
<circle cx="125.8" cy="507.5" r="5.5" fill="#0000ff"/>
<text font-size="29.2"><tspan x="147.16" y="513.1">Extrinsic </tspan><tspan x="266.83" y="513.1" font-style="italic">V</tspan><tspan x="285.59" y="521.1" font-size="20.8">ds </tspan><tspan x="312.63" y="513.1">= 3 V </tspan><tspan x="392.14" y="513.1" font-style="italic">V</tspan><tspan x="409.79" y="521.1" font-size="20.8">gs </tspan><tspan x="439.6" y="513.1">= –1 V</tspan></text>
<text font-size="29.2"><tspan x="202.92" y="785.2" font-style="italic">f</tspan><tspan x="209.43" y="793.5" font-size="20.8">T </tspan><tspan x="227.47" y="785.2">= 7.2 GHz</tspan></text>
<g fill="#0000ff"><circle cx="182.6" cy="556.2" r="5.5"/><circle cx="216.5" cy="588.8" r="5.5"/><circle cx="240.6" cy="608.7" r="5.5"/><circle cx="259.8" cy="629.3" r="5.5"/><circle cx="275" cy="645.8" r="5.5"/><circle cx="288.3" cy="657.9" r="5.5"/><circle cx="299.24" cy="667.8" r="5.5"/><circle cx="309.31" cy="677.11" r="5.5"/><circle cx="318.31" cy="686.73" r="5.5"/><circle cx="326.47" cy="693.24" r="5.5"/><circle cx="333.91" cy="700.61" r="5.5"/><circle cx="340.77" cy="708.48" r="5.5"/><circle cx="347.11" cy="713.53" r="5.5"/><circle cx="353.02" cy="718.78" r="5.5"/><circle cx="358.56" cy="723.98" r="5.5"/><circle cx="363.75" cy="728.76" r="5.5"/><circle cx="368.65" cy="733.23" r="5.5"/><circle cx="373.29" cy="737.45" r="5.5"/><circle cx="377.69" cy="741.46" r="5.5"/><circle cx="381.87" cy="745.27" r="5.5"/><circle cx="385.87" cy="748.91" r="5.5"/><circle cx="389.68" cy="752.39" r="5.5"/><circle cx="393.33" cy="755.71" r="5.5"/><circle cx="396.84" cy="758.9" r="5.5"/><circle cx="400.2" cy="761.97" r="5.5"/><circle cx="403.44" cy="764.92" r="5.5"/><circle cx="406.56" cy="767.77" r="5.5"/><circle cx="409.58" cy="770.51" r="5.5"/><circle cx="412.49" cy="773.63" r="5.5"/><circle cx="415.3" cy="777.15" r="5.5"/><circle cx="418.03" cy="780.9" r="5.5"/><circle cx="420.67" cy="784.89" r="5.5"/><circle cx="423.23" cy="787.98" r="5.5"/><circle cx="425.72" cy="789.84" r="5.5"/><circle cx="428.14" cy="791.66" r="5.5"/><circle cx="430.5" cy="793.46" r="5.5"/><circle cx="432.79" cy="795.21" r="5.5"/><circle cx="435.02" cy="797.5" r="5.5"/><circle cx="437.19" cy="799.91" r="5.5"/><circle cx="439.32" cy="802.14" r="5.5"/><circle cx="441.39" cy="803.82" r="5.5"/><circle cx="443.41" cy="805.46" r="5.5"/><circle cx="445.38" cy="807.06" r="5.5"/><circle cx="447.31" cy="808.57" r="5.5"/><circle cx="449.2" cy="810.02" r="5.5"/><circle cx="451.05" cy="810.17" r="5.5"/><circle cx="452.86" cy="810.24" r="5.5"/></g>
<text x="-0.2" y="486.8" font-size="41" font-weight="bold">c</text>
<rect x="683.9" y="476.6" width="455.2" height="338.3" fill="none" stroke="#000" stroke-width="1.9"/>
<path d="M752.41 814.9v-8.8M980.01 814.9v-8.8" stroke="#000" stroke-width="1.65" fill="none"/>
<path d="M701.92 814.9v-4.4M717.16 814.9v-4.4M730.36 814.9v-4.4M742 814.9v-4.4M820.93 814.9v-4.4M861.01 814.9v-4.4M889.44 814.9v-4.4M911.5 814.9v-4.4M929.52 814.9v-4.4M944.76 814.9v-4.4M957.96 814.9v-4.4M969.6 814.9v-4.4M1048.53 814.9v-4.4M1088.61 814.9v-4.4M1117.04 814.9v-4.4" stroke="#000" stroke-width="1.65" fill="none"/>
<path d="M683.9 554.6h8.8" stroke="#000" stroke-width="1.65" fill="none"/>
<path d="M683.9 736.54h4.4M683.9 690.71h4.4M683.9 658.18h4.4M683.9 632.96h4.4M683.9 612.35h4.4M683.9 594.92h4.4M683.9 579.83h4.4M683.9 566.51h4.4" stroke="#000" stroke-width="1.65" fill="none"/>
<text x="754.4" y="848" font-size="29.2" text-anchor="middle">1</text>
<text x="982.2" y="848" font-size="29.2" text-anchor="middle">10</text>
<text x="640.46" y="565.1" font-size="29.2">10</text>
<text x="665.6" y="820" font-size="29.2" text-anchor="middle">1</text>
<text x="803.4" y="892.7" font-size="29.2">Frequency (GHz)</text>
<text transform="rotate(-90)" font-size="29.2"><tspan x="-671.08" y="619.5" font-style="italic">U</tspan><tspan x="-651.43" y="607.6" font-size="21.4">1/2</tspan></text>
<text font-size="29.2"><tspan x="745.2" y="516.9">Extrinsic </tspan><tspan x="873.48" y="516.9" font-style="italic">V</tspan><tspan x="891.13" y="524.8" font-size="20.8">ds </tspan><tspan x="918.67" y="516.9">= 3 V </tspan><tspan x="997.08" y="516.9" font-style="italic">V</tspan><tspan x="1015.83" y="524.8" font-size="20.8">gs </tspan><tspan x="1043.47" y="516.9">= –1 V</tspan></text>
<text font-size="29.2"><tspan x="799.52" y="788.3" font-style="italic">f</tspan><tspan x="806.22" y="796.9" font-size="20.8">max </tspan><tspan x="850.47" y="788.3">= 23 GHz</tspan></text>
<g fill="#0000ff"><circle cx="703.5" cy="594.7" r="5.5"/><circle cx="725.2" cy="597.2" r="5.5"/><circle cx="743.1" cy="607.2" r="5.5"/><circle cx="758.1" cy="617.4" r="5.5"/><circle cx="771.1" cy="622.2" r="5.5"/><circle cx="782.6" cy="646.4" r="5.5"/><circle cx="793.1" cy="643.1" r="5.5"/><circle cx="802.4" cy="638.3" r="5.5"/><circle cx="811" cy="646.4" r="5.5"/><circle cx="818.6" cy="655.6" r="5.5"/><circle cx="825.8" cy="651.4" r="5.5"/><circle cx="832.8" cy="656.1" r="5.5"/><circle cx="839.2" cy="661.4" r="5.5"/><circle cx="845.3" cy="658.9" r="5.5"/><circle cx="851.1" cy="658.1" r="5.5"/><circle cx="856.1" cy="672.8" r="5.5"/><circle cx="861.3" cy="663.1" r="5.5"/><circle cx="866.1" cy="660.8" r="5.5"/><circle cx="871" cy="666.3" r="5.5"/><circle cx="875.1" cy="670.4" r="5.5"/><circle cx="879.3" cy="672.5" r="5.5"/><circle cx="883.2" cy="671.5" r="5.5"/><circle cx="886.9" cy="674.6" r="5.5"/><circle cx="890.7" cy="670.4" r="5.5"/><circle cx="894.6" cy="669.7" r="5.5"/><circle cx="898.1" cy="673.9" r="5.5"/><circle cx="901.5" cy="677.8" r="5.5"/><circle cx="904.7" cy="681.1" r="5.5"/><circle cx="907.5" cy="680.5" r="5.5"/><circle cx="910.5" cy="679.5" r="5.5"/><circle cx="913.2" cy="682.5" r="5.5"/><circle cx="916.7" cy="675.6" r="5.5"/><circle cx="920" cy="684" r="5.5"/><circle cx="924.3" cy="690.8" r="5.5"/><circle cx="927.1" cy="679" r="5.5"/><circle cx="930.5" cy="688" r="5.5"/><circle cx="934" cy="704" r="5.5"/><circle cx="937.5" cy="692" r="5.5"/><circle cx="941" cy="688" r="5.5"/><circle cx="946" cy="690" r="5.5"/><circle cx="951.4" cy="689.4" r="5.5"/><circle cx="954.2" cy="701.3" r="5.5"/><circle cx="958.3" cy="707.5" r="5.5"/><circle cx="961.8" cy="719.3" r="5.5"/><circle cx="968.1" cy="727" r="5.5"/><circle cx="973.6" cy="732.5" r="5.5"/><circle cx="982" cy="742.2" r="5.5"/><circle cx="988.9" cy="747.8" r="5.5"/><circle cx="995.8" cy="756.1" r="5.5"/><circle cx="1003.5" cy="759.6" r="5.5"/><circle cx="1007" cy="754" r="5.5"/><circle cx="1012.5" cy="767.2" r="5.5"/><circle cx="1016.7" cy="775.6" r="5.5"/><circle cx="1020.8" cy="786.7" r="5.5"/><circle cx="1024.3" cy="792.2" r="5.5"/><circle cx="1030.6" cy="782.5" r="5.5"/><circle cx="1037.2" cy="773.5" r="5.5"/><circle cx="1041.7" cy="783.9" r="5.5"/><circle cx="1044.4" cy="799.2" r="5.5"/><circle cx="1047.5" cy="790" r="5.5"/><circle cx="1050.4" cy="778.3" r="5.5"/><circle cx="1053" cy="787" r="5.5"/><circle cx="1055.5" cy="792" r="5.5"/><circle cx="1059.7" cy="802" r="5.5"/><circle cx="1062.5" cy="806.1" r="5.5"/><circle cx="1064.5" cy="810.5" r="5.5"/><circle cx="907.46" cy="682.68" r="5.5"/><circle cx="910.51" cy="678.4" r="5.5"/><circle cx="913.46" cy="682.32" r="5.5"/><circle cx="916.32" cy="676.08" r="5.5"/><circle cx="919.11" cy="680.85" r="5.5"/><circle cx="921.82" cy="686.3" r="5.5"/><circle cx="924.45" cy="689.64" r="5.5"/><circle cx="927.02" cy="679.24" r="5.5"/><circle cx="929.52" cy="685.8" r="5.5"/><circle cx="931.96" cy="695.7" r="5.5"/><circle cx="934.34" cy="703.02" r="5.5"/><circle cx="936.67" cy="695.93" r="5.5"/><circle cx="938.94" cy="690.77" r="5.5"/><circle cx="941.16" cy="688.13" r="5.5"/><circle cx="943.34" cy="688.67" r="5.5"/><circle cx="945.46" cy="688.77" r="5.5"/><circle cx="947.54" cy="688.21" r="5.5"/><circle cx="949.58" cy="689.47" r="5.5"/><circle cx="951.58" cy="689.94" r="5.5"/><circle cx="953.54" cy="698.74" r="5.5"/><circle cx="955.46" cy="703.47" r="5.5"/><circle cx="957.34" cy="704.74" r="5.5"/><circle cx="959.19" cy="709.72" r="5.5"/><circle cx="961" cy="715.43" r="5.5"/><circle cx="962.78" cy="721.43" r="5.5"/><circle cx="964.53" cy="722.46" r="5.5"/><circle cx="966.25" cy="724.8" r="5.5"/><circle cx="967.94" cy="725.85" r="5.5"/><circle cx="969.6" cy="727.18" r="5.5"/><circle cx="971.23" cy="729.49" r="5.5"/><circle cx="972.84" cy="731.57" r="5.5"/><circle cx="974.42" cy="733.84" r="5.5"/><circle cx="975.98" cy="733.68" r="5.5"/><circle cx="977.51" cy="737.28" r="5.5"/><circle cx="979.02" cy="737.84" r="5.5"/><circle cx="980.51" cy="739.89" r="5.5"/><circle cx="981.97" cy="741.77" r="5.5"/><circle cx="983.41" cy="742.85" r="5.5"/><circle cx="984.84" cy="744.89" r="5.5"/><circle cx="986.24" cy="746.44" r="5.5"/><circle cx="987.62" cy="747.03" r="5.5"/><circle cx="988.99" cy="747.3" r="5.5"/><circle cx="990.33" cy="749.86" r="5.5"/><circle cx="991.66" cy="751.42" r="5.5"/><circle cx="992.97" cy="753.47" r="5.5"/><circle cx="994.26" cy="754.44" r="5.5"/><circle cx="995.53" cy="754.12" r="5.5"/><circle cx="996.79" cy="755.73" r="5.5"/><circle cx="998.04" cy="756.65" r="5.5"/><circle cx="999.26" cy="758.51" r="5.5"/><circle cx="1000.48" cy="758.02" r="5.5"/><circle cx="1001.67" cy="759.6" r="5.5"/><circle cx="1002.86" cy="759.53" r="5.5"/><circle cx="1004.03" cy="757.51" r="5.5"/><circle cx="1005.18" cy="756.88" r="5.5"/><circle cx="1006.33" cy="755.55" r="5.5"/><circle cx="1007.46" cy="755.43" r="5.5"/><circle cx="1008.57" cy="756.25" r="5.5"/><circle cx="1009.68" cy="760.78" r="5.5"/><circle cx="1010.77" cy="761.36" r="5.5"/><circle cx="1011.85" cy="760.05" r="5.5"/><circle cx="1012.92" cy="766.4" r="5.5"/><circle cx="1013.98" cy="764.92" r="5.5"/><circle cx="1015.02" cy="768.8" r="5.5"/><circle cx="1016.06" cy="777.82" r="5.5"/><circle cx="1017.08" cy="782.76" r="5.5"/><circle cx="1018.1" cy="781.91" r="5.5"/><circle cx="1019.1" cy="783.02" r="5.5"/><circle cx="1020.09" cy="789.47" r="5.5"/><circle cx="1021.08" cy="787.83" r="5.5"/><circle cx="1022.05" cy="785.97" r="5.5"/><circle cx="1023.01" cy="783.7" r="5.5"/><circle cx="1023.97" cy="793.83" r="5.5"/><circle cx="1024.92" cy="785.29" r="5.5"/><circle cx="1025.85" cy="782.29" r="5.5"/><circle cx="1026.78" cy="786.52" r="5.5"/><circle cx="1027.7" cy="786.95" r="5.5"/><circle cx="1028.61" cy="783.17" r="5.5"/><circle cx="1029.51" cy="786.67" r="5.5"/><circle cx="1030.41" cy="782.39" r="5.5"/><circle cx="1031.29" cy="781.91" r="5.5"/><circle cx="1032.17" cy="781.32" r="5.5"/><circle cx="1033.04" cy="777.49" r="5.5"/><circle cx="1033.91" cy="778.35" r="5.5"/><circle cx="1034.76" cy="782.65" r="5.5"/><circle cx="1035.61" cy="773.08" r="5.5"/><circle cx="1036.45" cy="774.78" r="5.5"/><circle cx="1037.29" cy="774.89" r="5.5"/><circle cx="1038.11" cy="774.05" r="5.5"/><circle cx="1038.93" cy="777.22" r="5.5"/><circle cx="1039.75" cy="774.81" r="5.5"/><circle cx="1040.56" cy="779.97" r="5.5"/><circle cx="1041.36" cy="783.05" r="5.5"/><circle cx="1042.15" cy="789.17" r="5.5"/><circle cx="1042.94" cy="793.2" r="5.5"/><circle cx="1043.72" cy="793.69" r="5.5"/><circle cx="1044.49" cy="795.9" r="5.5"/><circle cx="1045.26" cy="801.22" r="5.5"/><circle cx="1046.03" cy="796.53" r="5.5"/><circle cx="1046.78" cy="787.04" r="5.5"/><circle cx="1047.54" cy="788.83" r="5.5"/><circle cx="1048.28" cy="784.37" r="5.5"/><circle cx="1049.02" cy="782.15" r="5.5"/><circle cx="1049.76" cy="776.31" r="5.5"/><circle cx="1050.49" cy="777.36" r="5.5"/><circle cx="1051.21" cy="779.54" r="5.5"/><circle cx="1051.93" cy="782.67" r="5.5"/><circle cx="1052.64" cy="788.37" r="5.5"/><circle cx="1053.35" cy="788.15" r="5.5"/><circle cx="1054.06" cy="785.82" r="5.5"/><circle cx="1054.75" cy="785.88" r="5.5"/><circle cx="1055.45" cy="790.39" r="5.5"/><circle cx="1056.14" cy="796.37" r="5.5"/><circle cx="1056.82" cy="797.46" r="5.5"/><circle cx="1057.5" cy="795.11" r="5.5"/><circle cx="1058.17" cy="801.26" r="5.5"/><circle cx="1058.84" cy="800.97" r="5.5"/><circle cx="1059.51" cy="799.86" r="5.5"/><circle cx="1060.17" cy="803.69" r="5.5"/><circle cx="1060.83" cy="803.34" r="5.5"/><circle cx="1061.48" cy="801.6" r="5.5"/><circle cx="1062.13" cy="804.32" r="5.5"/></g>
<path d="M931.3 629.7L1092.3 813.9" stroke="#ff00ff" stroke-width="4.4" stroke-dasharray="17.2 21.8" fill="none"/>
<text font-size="29.2" fill="#ff00ff"><tspan x="984.58" y="637.7">1/</tspan><tspan x="1009.32" y="637.7" font-style="italic">f</tspan></text>
<path d="M988.9 650.6L983.5 654.6M979.5 657.6l-10 7.5" stroke="#ff00ff" stroke-width="1.6" fill="none"/>
<path d="M969.4 665.1l6.5 -8.5l3.2 4.6z" fill="#ff00ff"/>
<text x="587.92" y="487" font-size="41" font-weight="bold">d</text>
<rect x="1271.8" y="475.9" width="458.5" height="340.9" fill="none" stroke="#000" stroke-width="1.5"/>
<path d="M1501.05 816.8v-8.4" stroke="#000" stroke-width="1.3" fill="none"/>
<path d="M1340.81 816.8v-4.2M1381.18 816.8v-4.2M1409.82 816.8v-4.2M1432.04 816.8v-4.2M1450.19 816.8v-4.2M1465.54 816.8v-4.2M1478.83 816.8v-4.2M1490.56 816.8v-4.2M1570.06 816.8v-4.2M1610.43 816.8v-4.2M1639.07 816.8v-4.2M1661.29 816.8v-4.2M1679.44 816.8v-4.2M1694.79 816.8v-4.2M1708.08 816.8v-4.2M1719.81 816.8v-4.2" stroke="#000" stroke-width="1.3" fill="none"/>
<path d="M1271.8 719.4h8.4M1271.8 622h8.4M1271.8 524.6h8.4" stroke="#000" stroke-width="1.3" fill="none"/>
<path d="M1271.8 768.1h4.2M1271.8 670.7h4.2M1271.8 573.3h4.2" stroke="#000" stroke-width="1.3" fill="none"/>
<text x="1268.2" y="847.5" font-size="29.2" text-anchor="middle">0.1</text>
<text x="1498.3" y="847.5" font-size="29.2" text-anchor="middle">1</text>
<text x="1724.1" y="847.5" font-size="29.2" text-anchor="middle">10</text>
<text x="1243.88" y="818" font-size="29.2">0</text>
<text x="1243.88" y="723.3" font-size="29.2">2</text>
<text x="1243.97" y="628.6" font-size="29.2">4</text>
<text x="1243.78" y="533.9" font-size="29.2">6</text>
<text x="1384.7" y="892.3" font-size="29.2">Frequency (GHz)</text>
<text transform="rotate(-90)" font-size="29.2"><tspan x="-778.43" y="1218.2">Voltage gain </tspan><tspan x="-608.36" y="1218.2">A</tspan><tspan x="-589.67" y="1226.7" font-size="19.5">v</tspan><tspan x="-571.31" y="1218.2">(dB)</tspan></text>
<text font-size="29.2"><tspan x="1333.1" y="516.9">Extrinsic </tspan><tspan x="1453.28" y="516.9" font-style="italic">V</tspan><tspan x="1471.23" y="524.8" font-size="20.8">ds </tspan><tspan x="1500.47" y="516.9">= 3 V </tspan><tspan x="1579.38" y="516.9" font-style="italic">V</tspan><tspan x="1598.19" y="524.8" font-size="20.8">tg </tspan><tspan x="1623.27" y="516.9">= –1 V</tspan></text>
<text x="1601.53" y="759.2" font-size="29.2">4.2 GHz</text>
<path d="M1656.1 770.4L1648.6 800.5" stroke="#000" stroke-width="1.5" fill="none"/>
<path d="M1646.4 809.6l-1.2 -14.5l8.2 2z" fill="#000"/>
<clipPath id="ce"><rect x="1271" y="476" width="460" height="341.5"/></clipPath>
<g clip-path="url(#ce)"><g fill="#0000ff"><circle cx="1318.2" cy="540.4" r="5.5"/><circle cx="1384.1" cy="608.4" r="5.5"/><circle cx="1423.2" cy="646.5" r="5.5"/><circle cx="1451.8" cy="668.2" r="5.5"/><circle cx="1473.4" cy="690.5" r="5.5"/><circle cx="1491.7" cy="699.7" r="5.5"/><circle cx="1507" cy="714.5" r="5.5"/><circle cx="1519.7" cy="723.9" r="5.5"/><circle cx="1531.7" cy="733.2" r="5.5"/><circle cx="1541.9" cy="743" r="5.5"/><circle cx="1551.5" cy="746.9" r="5.5"/><circle cx="1560.2" cy="752.7" r="5.5"/><circle cx="1568.1" cy="760.7" r="5.5"/><circle cx="1575.2" cy="770.4" r="5.5"/><circle cx="1582.4" cy="771.9" r="5.5"/><circle cx="1588.2" cy="778.6" r="5.5"/><circle cx="1594.2" cy="781.6" r="5.5"/><circle cx="1599.9" cy="783.1" r="5.5"/><circle cx="1605.6" cy="788.4" r="5.5"/><circle cx="1610.4" cy="794.4" r="5.5"/><circle cx="1615.6" cy="797.4" r="5.5"/><circle cx="1620.1" cy="800.4" r="5.5"/><circle cx="1624.6" cy="803.4" r="5.5"/><circle cx="1629.1" cy="805.6" r="5.5"/><circle cx="1632.9" cy="810.1" r="5.5"/><circle cx="1636.6" cy="813.9" r="5.5"/><circle cx="1640.4" cy="815.4" r="5.5"/><circle cx="1644.6" cy="815.4" r="5.5"/></g></g>
<text x="1190.4" y="487" font-size="41" font-weight="bold">e</text>
<rect x="85.7" y="947.1" width="454.8" height="339.1" fill="none" stroke="#000" stroke-width="1.8"/>
<path d="M146.34 1286.2v-8.2M297.94 1286.2v-8.2M464.7 1286.2v-8.2" stroke="#000" stroke-width="1.55" fill="none"/>
<path d="M222.14 1286.2v-4.2M381.32 1286.2v-4.2" stroke="#000" stroke-width="1.55" fill="none"/>
<path d="M85.7 1243.81h8.2M85.7 1159.04h8.2M85.7 1074.26h8.2M85.7 989.49h8.2" stroke="#000" stroke-width="1.55" fill="none"/>
<path d="M85.7 1201.42h4.2M85.7 1116.65h4.2M85.7 1031.88h4.2" stroke="#000" stroke-width="1.55" fill="none"/>
<text x="144.2" y="1319.3" font-size="29.2" text-anchor="middle">90</text>
<text x="295.2" y="1319.3" font-size="29.2" text-anchor="middle">190</text>
<text x="466.1" y="1319.3" font-size="29.2" text-anchor="middle">300</text>
<text x="60.88" y="1254.4" font-size="29.2">2</text>
<text x="60.97" y="1169.36" font-size="29.2">4</text>
<text x="60.78" y="1084.32" font-size="29.2">6</text>
<text x="60.88" y="999.28" font-size="29.2">8</text>
<text x="202.23" y="1359.9" font-size="29.2">Gate length (nm)</text>
<path d="M146.34 1019.16L297.94 1167.52" stroke="#0000ff" stroke-width="1.8" stroke-dasharray="4.1 6.5" stroke-dashoffset="-5.9" fill="none"/>
<path d="M297.94 1167.52L464.7 1205.66" stroke="#0000ff" stroke-width="1.8" stroke-dasharray="4.1 6.5" stroke-dashoffset="-5.9" fill="none"/>
<circle cx="146.34" cy="1019.16" r="12.4" fill="#fff"/>
<circle cx="146.34" cy="1019.16" r="6.85" fill="#fff" stroke="#0000ff" stroke-width="4.7"/>
<circle cx="297.94" cy="1167.52" r="12.4" fill="#fff"/>
<circle cx="297.94" cy="1167.52" r="6.85" fill="#fff" stroke="#0000ff" stroke-width="4.7"/>
<circle cx="464.7" cy="1205.66" r="12.4" fill="#fff"/>
<circle cx="464.7" cy="1205.66" r="6.85" fill="#fff" stroke="#0000ff" stroke-width="4.7"/>
<text transform="rotate(-90)" font-size="29.2"><tspan x="-1213.58" y="38.2" font-style="italic">f</tspan><tspan x="-1206.87" y="46.1" font-size="20.8">T_extrinsic </tspan><tspan x="-1097.61" y="38.2">(GHz)</tspan></text>
<text x="-0" y="961.6" font-size="41" font-weight="bold">f</text>
<rect x="683.1" y="946.6" width="454.9" height="338.7" fill="none" stroke="#000" stroke-width="1.8"/>
<path d="M749.27 1285.3v-8.2M914.69 1285.3v-8.2M1096.65 1285.3v-8.2" stroke="#000" stroke-width="1.55" fill="none"/>
<path d="M831.98 1285.3v-4.2M1005.67 1285.3v-4.2" stroke="#000" stroke-width="1.55" fill="none"/>
<path d="M683.1 1243.4h8.2M683.1 1156.11h8.2M683.1 1068.81h8.2M683.1 981.52h8.2" stroke="#000" stroke-width="1.55" fill="none"/>
<path d="M683.1 1199.75h4.2M683.1 1112.46h4.2M683.1 1025.16h4.2" stroke="#000" stroke-width="1.55" fill="none"/>
<text x="749.4" y="1319.3" font-size="29.2" text-anchor="middle">90</text>
<text x="914.2" y="1319.3" font-size="29.2" text-anchor="middle">190</text>
<text x="1096" y="1319.3" font-size="29.2" text-anchor="middle">300</text>
<text x="639.22" y="1252.2" font-size="29.2">10</text>
<text x="639.26" y="1164.8" font-size="29.2">15</text>
<text x="639.6" y="1077.4" font-size="29.2">20</text>
<text x="639.64" y="990" font-size="29.2">25</text>
<text x="805.73" y="1359.9" font-size="29.2">Gate length (nm)</text>
<path d="M749.27 1016.44L914.69 1170.07" stroke="#0000ff" stroke-width="1.8" stroke-dasharray="4.1 6.5" stroke-dashoffset="-5.9" fill="none"/>
<path d="M914.69 1170.07L1096.65 1239.91" stroke="#0000ff" stroke-width="1.8" stroke-dasharray="4.1 6.5" stroke-dashoffset="-5.9" fill="none"/>
<circle cx="749.27" cy="1016.44" r="12.4" fill="#fff"/>
<circle cx="749.27" cy="1016.44" r="6.85" fill="#fff" stroke="#0000ff" stroke-width="4.7"/>
<circle cx="914.69" cy="1170.07" r="12.4" fill="#fff"/>
<circle cx="914.69" cy="1170.07" r="6.85" fill="#fff" stroke="#0000ff" stroke-width="4.7"/>
<circle cx="1096.65" cy="1239.91" r="12.4" fill="#fff"/>
<circle cx="1096.65" cy="1239.91" r="6.85" fill="#fff" stroke="#0000ff" stroke-width="4.7"/>
<text transform="rotate(-90)" font-size="29.2"><tspan x="-1229.38" y="614.2" font-style="italic">f</tspan><tspan x="-1224.31" y="622.1" font-size="21.2">max_extrinsic </tspan><tspan x="-1088.05" y="614.2" font-size="29.9">(GHz)</tspan></text>
<text x="588.02" y="954.2" font-size="41" font-weight="bold">g</text>
<rect x="1272.6" y="947.6" width="454.4" height="338.4" fill="none" stroke="#000" stroke-width="1.8"/>
<path d="M1333.19 1286v-8.2M1484.65 1286v-8.2M1651.27 1286v-8.2" stroke="#000" stroke-width="1.55" fill="none"/>
<path d="M1408.92 1286v-4.2M1567.96 1286v-4.2" stroke="#000" stroke-width="1.55" fill="none"/>
<path d="M1272.6 1189.31h8.2M1272.6 1092.63h8.2M1272.6 995.94h8.2" stroke="#000" stroke-width="1.55" fill="none"/>
<path d="M1272.6 1237.66h4.2M1272.6 1140.97h4.2M1272.6 1044.29h4.2" stroke="#000" stroke-width="1.55" fill="none"/>
<text x="1333.3" y="1319.3" font-size="29.2" text-anchor="middle">90</text>
<text x="1483.8" y="1319.3" font-size="29.2" text-anchor="middle">190</text>
<text x="1650.5" y="1319.3" font-size="29.2" text-anchor="middle">300</text>
<text x="1248.28" y="1291" font-size="29.2">0</text>
<text x="1248.28" y="1193.9" font-size="29.2">2</text>
<text x="1248.37" y="1096.8" font-size="29.2">4</text>
<text x="1248.18" y="999.7" font-size="29.2">6</text>
<text x="1387.23" y="1359.9" font-size="29.2">Gate length (nm)</text>
<path d="M1333.19 1132.27L1484.65 1133.72" stroke="#0000ff" stroke-width="1.8" stroke-dasharray="2.9 4.2" stroke-dashoffset="-6.2" fill="none"/>
<path d="M1484.65 1133.72L1651.27 1116.32" stroke="#0000ff" stroke-width="1.8" stroke-dasharray="2.9 4.2" stroke-dashoffset="-6.2" fill="none"/>
<circle cx="1333.19" cy="1132.27" r="12.4" fill="#fff"/>
<circle cx="1333.19" cy="1132.27" r="6.85" fill="#fff" stroke="#0000ff" stroke-width="4.7"/>
<circle cx="1484.65" cy="1133.72" r="12.4" fill="#fff"/>
<circle cx="1484.65" cy="1133.72" r="6.85" fill="#fff" stroke="#0000ff" stroke-width="4.7"/>
<circle cx="1651.27" cy="1116.32" r="12.4" fill="#fff"/>
<circle cx="1651.27" cy="1116.32" r="6.85" fill="#fff" stroke="#0000ff" stroke-width="4.7"/>
<text transform="rotate(-90)" font-size="29.2"><tspan x="-1251.68" y="1217.4" font-style="italic">f</tspan><tspan x="-1245.3" y="1225.3" font-size="21.1">max_extrinsic </tspan><tspan x="-1109.4" y="1217.4">/ </tspan><tspan x="-1091.08" y="1217.4" font-style="italic">f</tspan><tspan x="-1084.47" y="1225.3" font-size="20.8">T_extrinsic</tspan></text>
<text x="1190.64" y="962" font-size="41" font-weight="bold">h</text>
</svg>
</body></html>
